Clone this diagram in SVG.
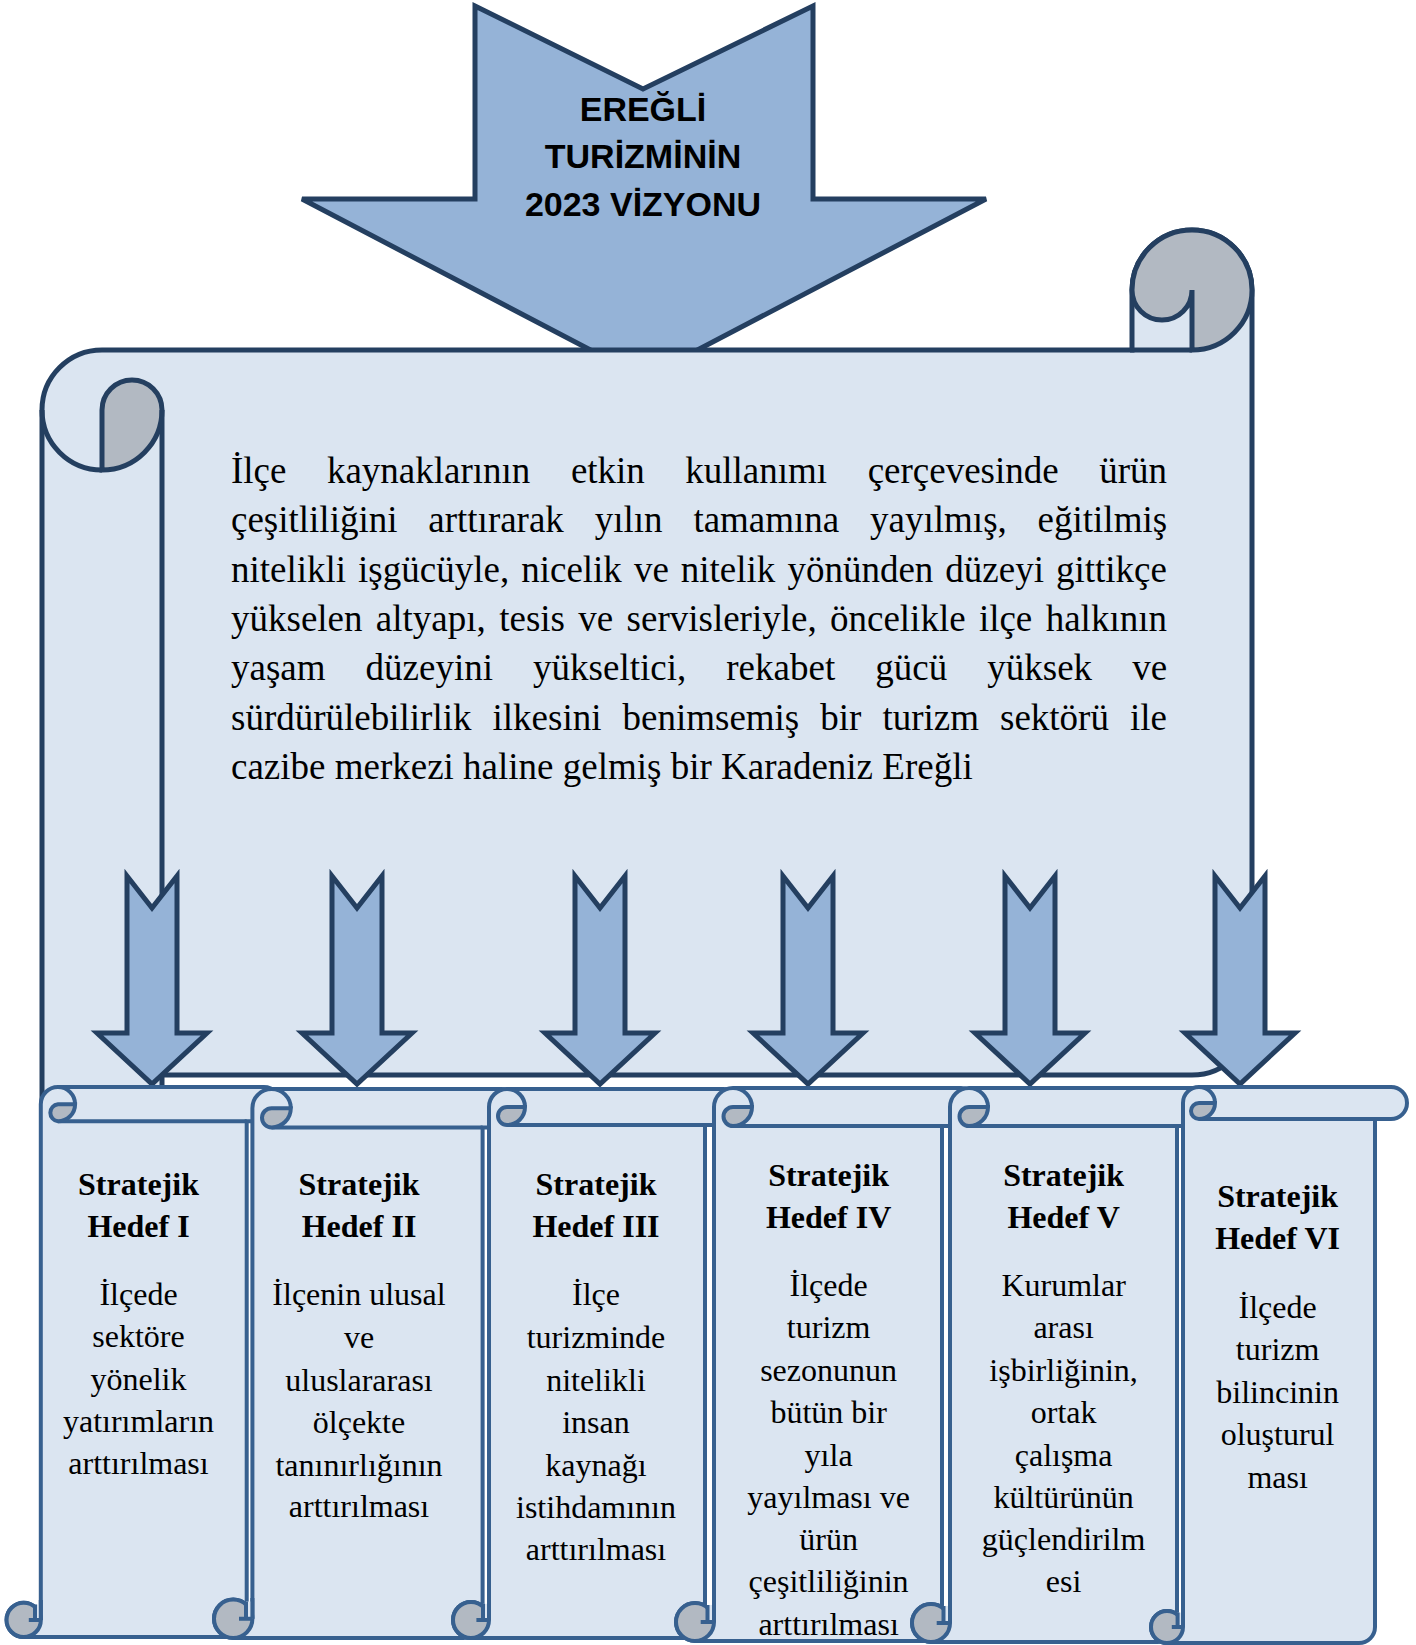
<svg xmlns="http://www.w3.org/2000/svg" width="1416" height="1645" viewBox="0 0 1416 1645">
<style>
.big{fill:#DBE5F1;stroke:#243F60;stroke-width:5}
.arr{fill:#95B3D7;stroke:#243F60;stroke-width:5}
.gray{fill:#B2B9C2;stroke:#243F60;stroke-width:5}
.ln{fill:none;stroke:#243F60;stroke-width:5}
.sc{fill:#DBE5F1;stroke:#37608F;stroke-width:4}
.sg{fill:#B2B9C2;stroke:#37608F;stroke-width:4}
.sl{fill:none;stroke:#37608F;stroke-width:4}
.lt{fill:#DBE5F1;stroke:none}
.main{font-family:"Liberation Serif","Times New Roman",serif;font-size:37px;fill:#000}
.t{font-family:"Liberation Serif","Times New Roman",serif;font-size:32px;text-anchor:middle;fill:#000}
.b{font-weight:bold}
.title{font-family:"Liberation Sans",Arial,sans-serif;font-weight:bold;font-size:34px;text-anchor:middle;fill:#000}
</style>
<rect width="1416" height="1645" fill="#FFFFFF"/>

<g id="vision-arrow">
<polygon class="arr" points="475,6 643,89 813,6 813,199 986,199 644,378 302,199 475,199"/>
<text class="title" x="643" y="121">EREĞLİ</text>
<text class="title" x="643" y="168">TURİZMİNİN</text>
<text class="title" x="643" y="216">2023 VİZYONU</text>
</g>

<g id="vision-scroll">
<path class="big" d="M1252 290 L1252 1015 A60 60 0 0 1 1192 1075 L162 1075 L162 1135 A60 60 0 0 1 42 1135 L42 410 A60 60 0 0 1 102 350 L1132 350 L1132 290 A60 60 0 0 1 1252 290 Z"/>
<path class="gray" d="M1132 290 A60 60 0 0 1 1252 290 A60 60 0 0 1 1192 350 L1192 290 A30 30 0 0 1 1132 290 Z"/>
<path class="ln" d="M1130 350 L1192 350"/>
<path class="gray" d="M102 470 L102 410 A30 30 0 0 1 162 410 A60 60 0 0 1 102 470 Z"/>
<path class="ln" d="M42 410 A60 60 0 0 0 102 470 M162 410 L162 1075"/>
<text class="main" y="483"><tspan x="231">İlçe</tspan><tspan x="326.9">kaynaklarının</tspan><tspan x="570.9">etkin</tspan><tspan x="685.3">kullanımı</tspan><tspan x="867.7">çerçevesinde</tspan><tspan x="1099.2">ürün</tspan></text>
<text class="main" y="532.3"><tspan x="231">çeşitliliğini</tspan><tspan x="428.3">arttırarak</tspan><tspan x="594.7">yılın</tspan><tspan x="693.4">tamamına</tspan><tspan x="870.1">yayılmış,</tspan><tspan x="1037.6">eğitilmiş</tspan></text>
<text class="main" y="581.6"><tspan x="231">nitelikli</tspan><tspan x="358.1">işgücüyle,</tspan><tspan x="521.2">nicelik</tspan><tspan x="633.9">ve</tspan><tspan x="680.8">nitelik</tspan><tspan x="787.4">yönünden</tspan><tspan x="945.3">düzeyi</tspan><tspan x="1055.9">gittikçe</tspan></text>
<text class="main" y="630.9"><tspan x="231">yükselen</tspan><tspan x="375.8">altyapı,</tspan><tspan x="499.2">tesis</tspan><tspan x="578.3">ve</tspan><tspan x="626.6">servisleriyle,</tspan><tspan x="830">öncelikle</tspan><tspan x="978.9">ilçe</tspan><tspan x="1045.7">halkının</tspan></text>
<text class="main" y="680.2"><tspan x="231">yaşam</tspan><tspan x="365.6">düzeyini</tspan><tspan x="533.1">yükseltici,</tspan><tspan x="726.3">rekabet</tspan><tspan x="875.3">gücü</tspan><tspan x="987.3">yüksek</tspan><tspan x="1132.2">ve</tspan></text>
<text class="main" y="729.5"><tspan x="231">sürdürülebilirlik</tspan><tspan x="492.5">ilkesini</tspan><tspan x="622.5">benimsemiş</tspan><tspan x="820.3">bir</tspan><tspan x="882.4">turizm</tspan><tspan x="1000">sektörü</tspan><tspan x="1129.9">ile</tspan></text>
<text class="main" x="231" y="778.8">cazibe merkezi haline gelmiş bir Karadeniz Ereğli</text>
</g>

<g id="connectors">
<polygon class="arr" points="127,876 152,908 177,876 177,1033 207,1033 152,1084 97,1033 127,1033"/>
<polygon class="arr" points="332,876 357,908 382,876 382,1033 412,1033 357,1084 302,1033 332,1033"/>
<polygon class="arr" points="575,876 600,908 625,876 625,1033 655,1033 600,1084 545,1033 575,1033"/>
<polygon class="arr" points="783,876 808,908 833,876 833,1033 863,1033 808,1084 753,1033 783,1033"/>
<polygon class="arr" points="1005,876 1030,908 1055,876 1055,1033 1085,1033 1030,1084 975,1033 1005,1033"/>
<polygon class="arr" points="1215,876 1240,908 1265,876 1265,1033 1295,1033 1240,1084 1185,1033 1215,1033"/>
</g>

<g id="goal-1">
<path class="sc" d="M40.8 1619.9 L40.8 1104.2 A17.15 17.15 0 0 1 58 1087 L263.9 1087 A17.15 17.15 0 0 1 263.9 1121.3 L246.7 1121.3 L246.7 1619.9 A17.15 17.15 0 0 1 229.6 1637 L23.7 1637 A17.15 17.15 0 0 1 23.7 1602.7 A17.15 17.15 0 0 1 40.8 1619.9 Z"/>
<path class="sl" d="M246.7 1121.3 L58 1121.3 M58 1087 A17.15 17.15 0 0 1 75.1 1104.2"/>
<path class="sg" d="M58 1104.2 L75.1 1104.2 A17.15 17.15 0 0 1 58 1121.3 A8.6 8.6 0 0 1 58 1104.2 Z"/>
<circle class="sg" cx="23.7" cy="1619.9" r="17.15"/>
<rect class="lt" x="35" y="1604.5" width="5.8" height="15.4"/>
<path class="sl" d="M35 1604.5 L35 1619.9 M28.8 1619.9 L40.8 1619.9 M40.8 1600 L40.8 1619.9"/>
<text class="t b" x="138.5" y="1195">Stratejik</text>
<text class="t b" x="138.5" y="1237">Hedef I</text>
<text class="t" x="138.5" y="1305">İlçede</text>
<text class="t" x="138.5" y="1347">sektöre</text>
<text class="t" x="138.5" y="1390">yönelik</text>
<text class="t" x="138.5" y="1432">yatırımların</text>
<text class="t" x="138.5" y="1474">arttırılması</text>
</g>

<g id="goal-2">
<path class="sc" d="M252.4 1618.8 L252.4 1108.2 A19.2 19.2 0 0 1 271.6 1089 L501.8 1089 A19.2 19.2 0 0 1 501.8 1127.4 L482.6 1127.4 L482.6 1618.8 A19.2 19.2 0 0 1 463.4 1638 L233.2 1638 A19.2 19.2 0 0 1 233.2 1599.6 A19.2 19.2 0 0 1 252.4 1618.8 Z"/>
<path class="sl" d="M482.6 1127.4 L271.6 1127.4 M271.6 1089 A19.2 19.2 0 0 1 290.8 1108.2"/>
<path class="sg" d="M271.6 1108.2 L290.8 1108.2 A19.2 19.2 0 0 1 271.6 1127.4 A9.6 9.6 0 0 1 271.6 1108.2 Z"/>
<circle class="sg" cx="233.2" cy="1618.8" r="19.2"/>
<rect class="lt" x="246" y="1601.5" width="6.4" height="17.3"/>
<path class="sl" d="M246 1601.5 L246 1618.8 M239 1618.8 L252.4 1618.8 M252.4 1598 L252.4 1618.8"/>
<text class="t b" x="359" y="1195">Stratejik</text>
<text class="t b" x="359" y="1237">Hedef II</text>
<text class="t" x="359" y="1305">İlçenin ulusal</text>
<text class="t" x="359" y="1348">ve</text>
<text class="t" x="359" y="1391">uluslararası</text>
<text class="t" x="359" y="1433">ölçekte</text>
<text class="t" x="359" y="1476">tanınırlığının</text>
<text class="t" x="359" y="1517">arttırılması</text>
</g>

<g id="goal-3">
<path class="sc" d="M489 1620 L489 1107 A18 18 0 0 1 507 1089 L723 1089 A18 18 0 0 1 723 1125 L705 1125 L705 1620 A18 18 0 0 1 687 1638 L471 1638 A18 18 0 0 1 471 1602 A18 18 0 0 1 489 1620 Z"/>
<path class="sl" d="M705 1125 L507 1125 M507 1089 A18 18 0 0 1 525 1107"/>
<path class="sg" d="M507 1107 L525 1107 A18 18 0 0 1 507 1125 A9 9 0 0 1 507 1107 Z"/>
<circle class="sg" cx="471" cy="1620" r="18"/>
<rect class="lt" x="483" y="1603.8" width="6" height="16.2"/>
<path class="sl" d="M483 1603.8 L483 1620 M476.4 1620 L489 1620 M489 1600 L489 1620"/>
<text class="t b" x="596" y="1195">Stratejik</text>
<text class="t b" x="596" y="1237">Hedef III</text>
<text class="t" x="596" y="1305">İlçe</text>
<text class="t" x="596" y="1348">turizminde</text>
<text class="t" x="596" y="1391">nitelikli</text>
<text class="t" x="596" y="1433">insan</text>
<text class="t" x="596" y="1476">kaynağı</text>
<text class="t" x="596" y="1518">istihdamının</text>
<text class="t" x="596" y="1560">arttırılması</text>
</g>

<g id="goal-4">
<path class="sc" d="M714 1622 L714 1107 A19 19 0 0 1 733 1088 L961 1088 A19 19 0 0 1 961 1126 L942 1126 L942 1622 A19 19 0 0 1 923 1641 L695 1641 A19 19 0 0 1 695 1603 A19 19 0 0 1 714 1622 Z"/>
<path class="sl" d="M942 1126 L733 1126 M733 1088 A19 19 0 0 1 752 1107"/>
<path class="sg" d="M733 1107 L752 1107 A19 19 0 0 1 733 1126 A9.5 9.5 0 0 1 733 1107 Z"/>
<circle class="sg" cx="695" cy="1622" r="19"/>
<rect class="lt" x="707.5" y="1604.9" width="6.5" height="17.1"/>
<path class="sl" d="M707.5 1604.9 L707.5 1622 M700.7 1622 L714 1622 M714 1600 L714 1622"/>
<text class="t b" x="828.6" y="1186">Stratejik</text>
<text class="t b" x="828.6" y="1228">Hedef IV</text>
<text class="t" x="828.6" y="1296">İlçede</text>
<text class="t" x="828.6" y="1338">turizm</text>
<text class="t" x="828.6" y="1381">sezonunun</text>
<text class="t" x="828.6" y="1423">bütün bir</text>
<text class="t" x="828.6" y="1466">yıla</text>
<text class="t" x="828.6" y="1508">yayılması ve</text>
<text class="t" x="828.6" y="1550">ürün</text>
<text class="t" x="828.6" y="1592">çeşitliliğinin</text>
<text class="t" x="828.6" y="1635">arttırılması</text>
</g>

<g id="goal-5">
<path class="sc" d="M950 1623 L950 1107 A19 19 0 0 1 969 1088 L1196 1088 A19 19 0 0 1 1196 1126 L1177 1126 L1177 1623 A19 19 0 0 1 1158 1642 L931 1642 A19 19 0 0 1 931 1604 A19 19 0 0 1 950 1623 Z"/>
<path class="sl" d="M1177 1126 L969 1126 M969 1088 A19 19 0 0 1 988 1107"/>
<path class="sg" d="M969 1107 L988 1107 A19 19 0 0 1 969 1126 A9.5 9.5 0 0 1 969 1107 Z"/>
<circle class="sg" cx="931" cy="1623" r="19"/>
<rect class="lt" x="943.5" y="1605.9" width="6.5" height="17.1"/>
<path class="sl" d="M943.5 1605.9 L943.5 1623 M936.7 1623 L950 1623 M950 1600 L950 1623"/>
<text class="t b" x="1063.6" y="1186">Stratejik</text>
<text class="t b" x="1063.6" y="1228">Hedef V</text>
<text class="t" x="1063.6" y="1296">Kurumlar</text>
<text class="t" x="1063.6" y="1338">arası</text>
<text class="t" x="1063.6" y="1381">işbirliğinin,</text>
<text class="t" x="1063.6" y="1423">ortak</text>
<text class="t" x="1063.6" y="1466">çalışma</text>
<text class="t" x="1063.6" y="1508">kültürünün</text>
<text class="t" x="1063.6" y="1550">güçlendirilm</text>
<text class="t" x="1063.6" y="1592">esi</text>
</g>

<g id="goal-6">
<path class="sc" d="M1183 1627 L1183 1103 A16 16 0 0 1 1199 1087 L1391 1087 A16 16 0 0 1 1391 1119 L1375 1119 L1375 1627 A16 16 0 0 1 1359 1643 L1167 1643 A16 16 0 0 1 1167 1611 A16 16 0 0 1 1183 1627 Z"/>
<path class="sl" d="M1375 1119 L1199 1119 M1199 1087 A16 16 0 0 1 1215 1103"/>
<path class="sg" d="M1199 1103 L1215 1103 A16 16 0 0 1 1199 1119 A8 8 0 0 1 1199 1103 Z"/>
<circle class="sg" cx="1167" cy="1627" r="16"/>
<rect class="lt" x="1177.6" y="1612.6" width="5.4" height="14.4"/>
<path class="sl" d="M1177.6 1612.6 L1177.6 1627 M1171.8 1627 L1183 1627 M1183 1605 L1183 1627"/>
<text class="t b" x="1277.6" y="1207">Stratejik</text>
<text class="t b" x="1277.6" y="1249">Hedef VI</text>
<text class="t" x="1277.6" y="1318">İlçede</text>
<text class="t" x="1277.6" y="1360">turizm</text>
<text class="t" x="1277.6" y="1403">bilincinin</text>
<text class="t" x="1277.6" y="1445">oluşturul</text>
<text class="t" x="1277.6" y="1488">ması</text>
</g>
</svg>
